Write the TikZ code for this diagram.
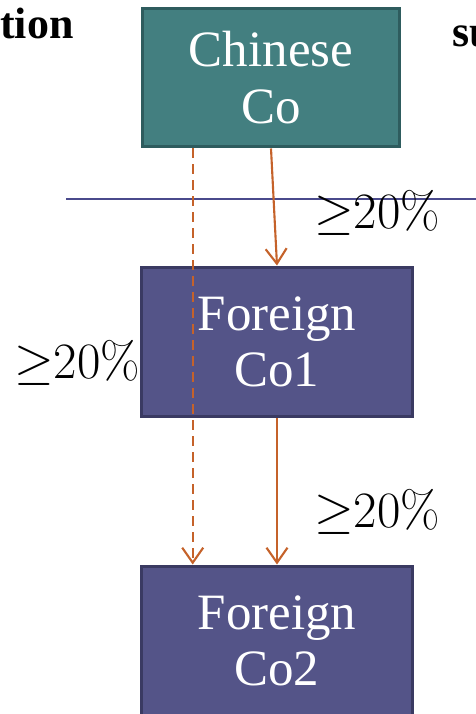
\RequirePackage{fix-cm}
\documentclass[tikz,border=0pt]{standalone}
\usepackage{fontspec}
\usepackage{tikz}
\usetikzlibrary{arrows.meta,calc}
\newfontfamily\boxfont{Liberation Serif}
\definecolor{chinafill}{HTML}{437F80}
\definecolor{chinaline}{HTML}{2E5C5E}
\definecolor{forfill}{HTML}{545488}
\definecolor{forline}{HTML}{3A3A62}
\definecolor{holding}{HTML}{C5622A}
\definecolor{divider}{HTML}{4A4A8C}
\tikzset{company/.style={draw,line width=1.7pt,align=center,text=white,
   font=\boxfont\fontsize{29}{32}\selectfont,inner sep=0pt},
 own/.style={-{Straight Barb[length=3mm,width=4.2mm]},holding,line width=1.2pt},
 indirect/.style={own,dash pattern=on 2mm off 1.2mm},
 share/.style={font=\fontsize{29}{32}\selectfont},
 title/.style={font=\boxfont\fontsize{25}{28}\bfseries\selectfont}}

\begin{document}
\begin{tikzpicture}[x=0.02cm,y=-0.02cm]
\useasboundingbox (0,0) rectangle (476,714);
\clip (0,0) rectangle (476,714);
\node[company,fill=chinafill,draw=chinaline,minimum width=5.16cm,minimum height=2.78cm]
  (chinese) at (271,77.5) {Chinese\\Co};
\node[company,fill=forfill,draw=forline,minimum width=5.42cm,minimum height=3cm]
  (foreignA) at (277,342) {Foreign\\Co1};
\node[company,fill=forfill,draw=forline,minimum width=5.42cm,minimum height=3cm]
  (foreignB) at (277,641) {Foreign\\Co2};
% dividing line
\coordinate (lineL) at (66,199);
\coordinate (lineR) at (476,199);
\draw[divider,line width=1.1pt] (lineL)--(lineR);
% holdings
\coordinate (dashtop) at ($(chinese.south west)!0.2!(chinese.south east)$);
\draw[indirect] (dashtop)--(dashtop |- foreignB.north);
\draw[own] (chinese.south)--(foreignA.north);
\draw[own] (foreignA.south)--(foreignB.north);
\node[share] (pctA) at (377,213) {$\geq$20\%};
\node[share] (pctB) at (77,363) {$\geq$20\%};
\node[share] (pctC) at (377,512) {$\geq$20\%};
% cut-off titles
\node[title,anchor=base west,inner xsep=0pt] (titleL) at (0,38) {tion};
\node[title,anchor=base west,inner xsep=0pt] (titleR) at (452,46) {su};
\end{tikzpicture}
\end{document}
